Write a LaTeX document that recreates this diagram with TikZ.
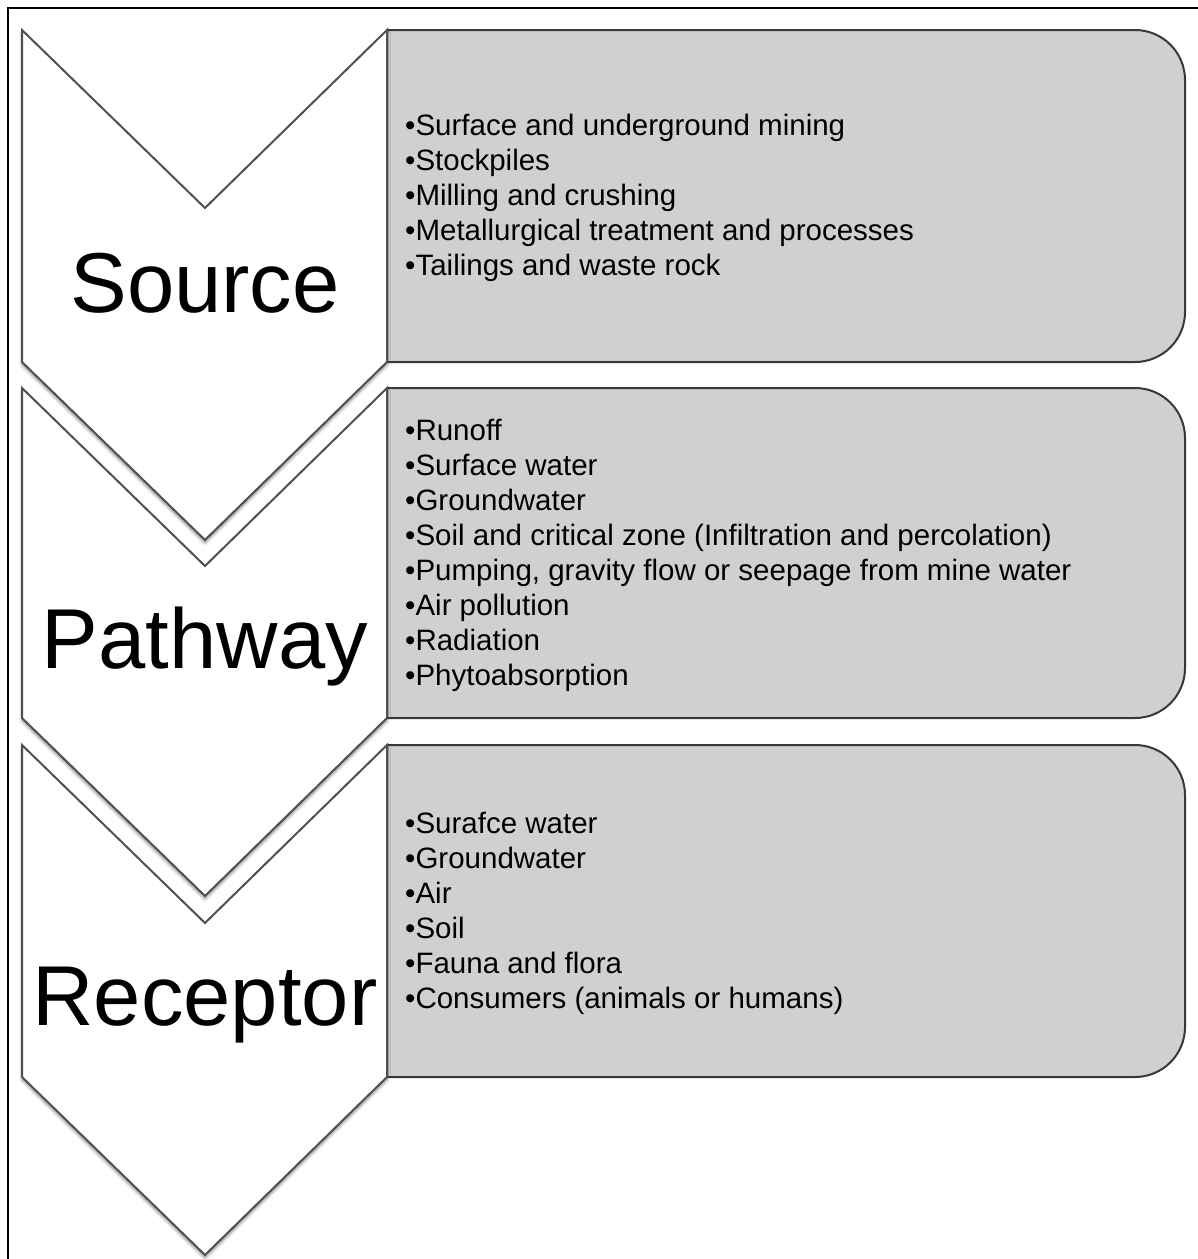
\documentclass[tikz,border=0pt]{standalone}
\usepackage{fontspec}
\setmainfont{Liberation Sans}
\usetikzlibrary{shadows.blur}
\usetikzlibrary{positioning}
\definecolor{boxgray}{RGB}{208,208,208}
\definecolor{edgegray}{RGB}{80,80,80}
\tikzset{chevron/.style={draw=edgegray, line width=2pt, fill=white,
    blur shadow={shadow xshift=0pt, shadow yshift=-3pt,
    shadow blur steps=6, shadow blur radius=3pt, shadow opacity=45}}}
\tikzset{list box/.style={draw=edgegray!70!black, line width=2pt, fill=boxgray}}
\tikzset{stage/.style={font=\fontsize{85}{100}\selectfont, anchor=base, inner sep=0pt}}
\tikzset{items/.style={font=\fontsize{29.5}{35}\selectfont, align=left,
    anchor=west, inner sep=0pt}}

\begin{document}
\begin{tikzpicture}[x=1pt, y=-1pt]
    \useasboundingbox (0,0) rectangle (1198,1259);
    \draw[line width=2.5pt] (8,1259) -- (8,8) -- (1198,8);

    % gray boxes, rounded on the right only
    \draw[list box] (700,30) [rounded corners=50pt] -- (1185,30) -- (1185,362) -- (700,362)
        [sharp corners] -- (387,362) -- (387,30) -- cycle;
    \draw[list box] (700,388) [rounded corners=50pt] -- (1185,388) -- (1185,718) -- (700,718)
        [sharp corners] -- (387,718) -- (387,388) -- cycle;
    \draw[list box] (700,745) [rounded corners=50pt] -- (1185,745) -- (1185,1077) -- (700,1077)
        [sharp corners] -- (387,1077) -- (387,745) -- cycle;

    % chevrons
    \draw[chevron] (22,30) -- (205,208) -- (387,30) -- (387,362) -- (205,540) -- (22,362) -- cycle;
    \draw[chevron] (22,388) -- (205,566) -- (387,388) -- (387,718) -- (205,896) -- (22,718) -- cycle;
    \draw[chevron] (22,745) -- (205,923) -- (387,745) -- (387,1077) -- (205,1255) -- (22,1077) -- cycle;

    \node[stage] (source) at (205,312) {Source};
    \node[stage] (pathway) at (205,668) {Pathway};
    \node[stage] (receptor) at (205,1025) {Receptor};

    \node[items] (sourcelist) at (405,198) {\textbullet Surface and underground mining\\
        \textbullet Stockpiles\\
        \textbullet Milling and crushing\\
        \textbullet Metallurgical treatment and processes\\
        \textbullet Tailings and waste rock};
    \node[items] (pathwaylist) at (405,555) {\textbullet Runoff\\
        \textbullet Surface water\\
        \textbullet Groundwater\\
        \textbullet Soil and critical zone (Infiltration and percolation)\\
        \textbullet Pumping, gravity flow or seepage from mine water\\
        \textbullet Air pollution\\
        \textbullet Radiation\\
        \textbullet Phytoabsorption};
    \node[items] (receptorlist) at (405,913) {\textbullet Surafce water\\
        \textbullet Groundwater\\
        \textbullet Air\\
        \textbullet Soil\\
        \textbullet Fauna and flora\\
        \textbullet Consumers (animals or humans)};
\end{tikzpicture}
\end{document}
